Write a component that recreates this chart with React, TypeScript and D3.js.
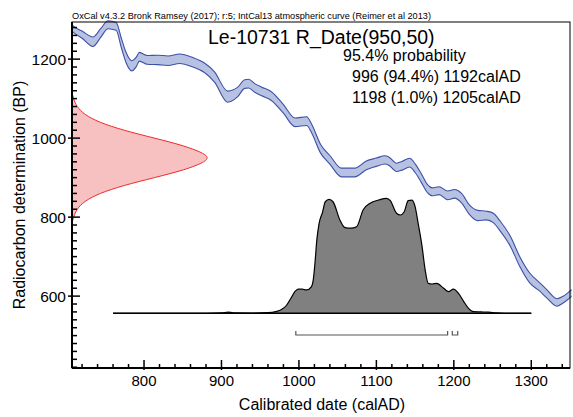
import React from "react";
import * as d3 from "d3";

// Calibration curve (IntCal13): calendar year AD, mean BP, 1-sigma BP
const calYears = [707, 708, 720, 734, 744, 753.5, 764, 771, 777, 784, 790, 794, 804, 818, 831, 846, 863, 878, 891, 908, 921, 930, 935, 943, 952, 964, 980, 995, 1010, 1016, 1028, 1040, 1055, 1072, 1087, 1100, 1111, 1116, 1126, 1133, 1143, 1150, 1158, 1166, 1172, 1181, 1192, 1201, 1210, 1220, 1231, 1242, 1251, 1260, 1273, 1285, 1298, 1311, 1320, 1333, 1341, 1352];
const calBP = [1279, 1277, 1262, 1244, 1266, 1287, 1283, 1239, 1203, 1183, 1193, 1206, 1198, 1198, 1196, 1201, 1192, 1178, 1155, 1105, 1117, 1137, 1138, 1127, 1118, 1107, 1074, 1040, 1043, 1026, 973, 945, 913, 913, 931, 939, 945, 942, 926, 930, 938, 924, 899, 872, 864, 867, 855, 859, 848, 819, 804, 804, 798, 777, 739, 688, 646, 623, 606, 584, 591, 608];
const calSigma = [8, 8, 9, 12, 11, 10, 10, 12, 13, 13, 12, 11, 11, 12, 12, 12, 12, 12, 13, 14, 12, 11, 11, 11, 11, 11, 11, 11, 11, 11, 11, 11, 11, 11, 11, 10.5, 10.5, 10.5, 10.5, 11, 11, 11, 11, 10, 10, 10, 11, 11, 12, 12, 13, 11, 12, 12.5, 12.5, 12.5, 12.5, 10.5, 10.5, 9.5, 8.5, 8.5];

// Radiocarbon date R_Date(950,50): BP value and relative density
const rcBP = [1108, 1100, 1080, 1060, 1040, 1020, 1000, 980, 960, 950, 940, 920, 900, 880, 860, 840, 820, 800, 792];
const rcDensity = [0.007, 0.011, 0.034, 0.089, 0.198, 0.375, 0.607, 0.835, 0.98, 1, 0.98, 0.835, 0.607, 0.375, 0.198, 0.089, 0.034, 0.011, 0.007];

// Calibrated probability distribution (relative, peak = 100)
const postYears = [760, 880, 900, 909, 918, 940, 960, 970, 977, 984, 990, 995, 999, 1004, 1010, 1016, 1018.5, 1021, 1023, 1026, 1030.5, 1034, 1039, 1044, 1053, 1059.5, 1067, 1074.5, 1083, 1092, 1103, 1113, 1118, 1126, 1131, 1136, 1141, 1146, 1150, 1154, 1159, 1163, 1167, 1172, 1178, 1187, 1193, 1199.5, 1206, 1213, 1219, 1225, 1235, 1245, 1255, 1265, 1300];
const postProb = [0, 0, 0.3, 1.0, 0.3, 0.2, 0.6, 1.5, 3, 7, 13.5, 19, 21, 21, 20.3, 23, 29, 46, 63, 78, 88, 97, 99, 97, 81, 74.5, 74, 75.3, 90, 95.7, 98.5, 100, 98, 87, 85.5, 88.3, 98, 98.5, 92.7, 78, 58, 37.7, 26, 25.5, 26, 21.7, 18.8, 21, 17.4, 10, 4.3, 1.4, 1.2, 1.0, 0.3, 0, 0];

// 95.4% ranges
const rangeFrom = [996, 1198];
const rangeTo = [1192, 1205];

const xTicksMajor = [800, 900, 1000, 1100, 1200, 1300];
const yTicksMajor = [600, 800, 1000, 1200];

const headerText = "OxCal v4.3.2 Bronk Ramsey (2017); r:5; IntCal13 atmospheric curve (Reimer et al 2013)";
const titleText = "Le-10731 R_Date(950,50)";
const probLines = ["95.4% probability", "996 (94.4%) 1192calAD", "1198 (1.0%) 1205calAD"];
const xLabel = "Calibrated date (calAD)";
const yLabel = "Radiocarbon determination (BP)";

const W = 573;
const H = 417;
const L = 72, R = 570, T = 22, B = 368;
const FONT = "'Liberation Sans', Arial, Helvetica, sans-serif";

export default function App() {
  const x = d3.scaleLinear().domain([707, 1350]).range([L, R]);
  const y = d3.scaleLinear().domain([418, 1294]).range([B, T]);

  const cal = calYears.map((yr, i) => ({ yr, bp: calBP[i], s: calSigma[i] }));
  const bandArea = d3.area<any>().x(d => x(d.yr)).y0(d => y(d.bp - d.s)).y1(d => y(d.bp + d.s)).curve(d3.curveMonotoneX);
  const upperLine = d3.line<any>().x(d => x(d.yr)).y(d => y(d.bp + d.s)).curve(d3.curveMonotoneX);
  const lowerLine = d3.line<any>().x(d => x(d.yr)).y(d => y(d.bp - d.s)).curve(d3.curveMonotoneX);

  const dens = d3.scaleLinear().domain([0, 1]).range([L, 208]);
  const rc = rcBP.map((bp, i) => ({ bp, d: rcDensity[i] }));
  const rcArea = d3.area<any>().y(d => y(d.bp)).x0(L).x1(d => dens(d.d)).curve(d3.curveBasis);
  const rcLine = d3.line<any>().y(d => y(d.bp)).x(d => dens(d.d)).curve(d3.curveBasis);

  const baseY = 313.3;
  const ph = d3.scaleLinear().domain([0, 100]).range([baseY, baseY - 115]);
  const post = postYears.map((yr, i) => ({ yr, p: postProb[i] }));
  const postArea = d3.area<any>().x(d => x(d.yr)).y0(baseY).y1(d => ph(d.p)).curve(d3.curveMonotoneX);
  const postLine = d3.line<any>().x(d => x(d.yr)).y(d => ph(d.p)).curve(d3.curveMonotoneX);

  const xMinor = d3.range(720, 1350, 20).filter(v => v % 100 !== 0);
  const yMinor = d3.range(420, 1294, 20).filter(v => v % 200 !== 0);

  const rangeY = 335;

  return (
    <svg width={W} height={H} style={{ position: "absolute", left: 0, top: 0, background: "#fff" }} fontFamily={FONT}>
      <rect x={0} y={0} width={W} height={H} fill="#fff" />
      {/* header */}
      <text x={72} y={19} fontSize={9.2} fill="#000">{headerText}</text>

      {/* calibrated distribution */}
      <path d={postArea(post) || ""} fill="#808080" stroke="none" />
      <path d={postLine(post) || ""} fill="none" stroke="#000" strokeWidth={1.2} />
      <line x1={x(760)} x2={x(1300)} y1={baseY} y2={baseY} stroke="#000" strokeWidth={1.5} />

      {/* ranges */}
      {rangeFrom.map((f, i) => (
        <path key={i} d={`M${x(f)},${rangeY - 4}V${rangeY}H${x(rangeTo[i])}V${rangeY - 4}`} fill="none" stroke="#555" strokeWidth={1.2} />
      ))}

      {/* radiocarbon date */}
      <path d={rcArea(rc) || ""} fill="#f8c1c1" stroke="none" />
      <path d={rcLine(rc) || ""} fill="none" stroke="#ee2a2a" strokeWidth={1} />

      {/* calibration curve */}
      <path d={bandArea(cal) || ""} fill="#b7c1e2" stroke="none" />
      <path d={upperLine(cal) || ""} fill="none" stroke="#3d50a6" strokeWidth={1.1} />
      <path d={lowerLine(cal) || ""} fill="none" stroke="#3d50a6" strokeWidth={1.1} />

      {/* frame */}
      <rect x={L} y={T} width={R - L} height={B - T} fill="none" stroke="#000" strokeWidth={1} />
      <line x1={L} x2={L} y1={T} y2={B} stroke="#000" strokeWidth={2} />
      <line x1={L} x2={R} y1={B} y2={B} stroke="#000" strokeWidth={2} />

      {/* x ticks */}
      {xMinor.map(v => (
        <line key={"xm" + v} x1={x(v)} x2={x(v)} y1={B} y2={B - 4} stroke="#000" strokeWidth={1.5} />
      ))}
      {xTicksMajor.map(v => (
        <g key={"xM" + v}>
          <line x1={x(v)} x2={x(v)} y1={B + 2} y2={B - 8} stroke="#000" strokeWidth={1.5} />
          <text x={x(v)} y={386} fontSize={15} textAnchor="middle" fill="#000">{v}</text>
        </g>
      ))}
      {/* y ticks */}
      {yMinor.map(v => (
        <line key={"ym" + v} x1={L} x2={L + 5} y1={y(v)} y2={y(v)} stroke="#000" strokeWidth={1.5} />
      ))}
      {yTicksMajor.map(v => (
        <g key={"yM" + v}>
          <line x1={L - 4} x2={L + 8} y1={y(v)} y2={y(v)} stroke="#000" strokeWidth={1.5} />
          <text x={66} y={y(v) + 5.5} fontSize={15.5} textAnchor="end" fill="#000">{v}</text>
        </g>
      ))}

      {/* axis labels */}
      <text x={322} y={410} fontSize={16} textAnchor="middle" fill="#000">{xLabel}</text>
      <text transform={`translate(25,195) rotate(-90)`} fontSize={16} textAnchor="middle" fill="#000">{yLabel}</text>

      {/* title and ranges text */}
      <text x={208} y={43.5} fontSize={19.5} fill="#000">{titleText}</text>
      <text x={343} y={61} fontSize={16} fill="#000">{probLines[0]}</text>
      <text x={352} y={82} fontSize={16} fill="#000">{probLines[1]}</text>
      <text x={352} y={103} fontSize={16} fill="#000">{probLines[2]}</text>
    </svg>
  );
}
